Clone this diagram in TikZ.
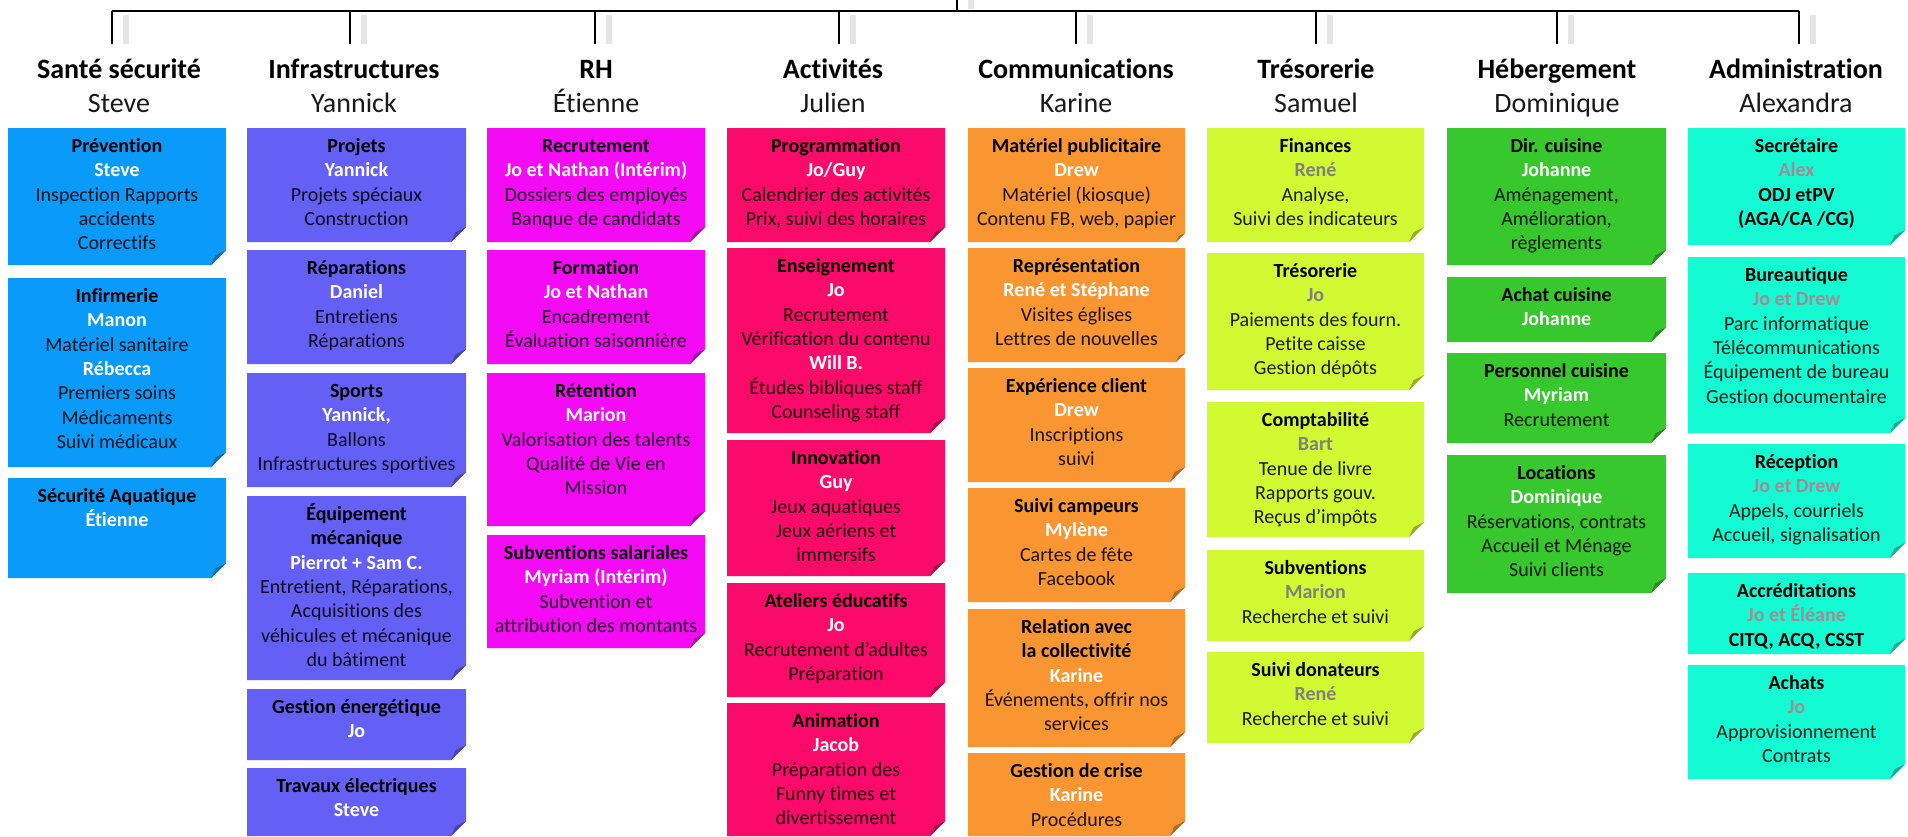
\documentclass[tikz,border=0pt]{standalone}
\usepackage{fontspec}
\setmainfont{Carlito}[Ligatures=NoCommon]
\definecolor{cSante}{RGB}{10,155,250}
\definecolor{cInfra}{RGB}{100,95,245}
\definecolor{cRH}{RGB}{245,10,245}
\definecolor{cAct}{RGB}{250,10,105}
\definecolor{cCom}{RGB}{250,150,50}
\definecolor{cTres}{RGB}{210,250,50}
\definecolor{cHeb}{RGB}{55,200,45}
\definecolor{cAdm}{RGB}{20,250,210}
\definecolor{nmGrey}{RGB}{128,128,128}
\definecolor{nmAdm}{RGB}{160,140,150}
\newcommand\btitle[1]{\textbf{\textcolor{black}{#1}}}
\newcommand\bname[1]{\textbf{\textcolor{\curname}{#1}}}
\newcommand\bblack[1]{\textbf{\textcolor{black}{#1}}}
\def\curname{white}
% name, colour, cut, x1, y1, x2, y2, content
\newcommand\SBox[8]{%
  \fill[#2] (#4,#5) -- (#6,#5) -- (#6,{#7-#3}) -- ({#6-#3},#7) -- (#4,#7) -- cycle;
  \fill[#2!70!black] (#6,{#7-#3}) -- ({#6-#3},#7) -- ({#6-0.7*#3},{#7-0.65*#3}) -- cycle;
  \node[boxtext, text=#2!12!black] (#1) at ({(#4+#6)/2},{#5+7.4}) {\strut #8};
}
\tikzset{
  boxtext/.style={font=\fontsize{20}{24.3}\selectfont, align=center, anchor=north, inner sep=0pt},
  hdtitle/.style={font=\fontsize{28}{33}\selectfont\bfseries, anchor=base, inner sep=0pt, text=black},
  hdname/.style={font=\fontsize{28}{33}\selectfont, anchor=base, inner sep=0pt, text=black!90},
  conn/.style={draw=black, line width=2.8pt},
  shadowline/.style={draw=gray!20, line width=6pt},
}
\begin{document}
\begin{tikzpicture}[x=1pt,y=-1pt]
\useasboundingbox (0,0) rectangle (1908,836);
\fill[white] (0,0) rectangle (1908,836);

% connectors
\coordinate (root) at (957,0);
\coordinate (rootj) at (957,11);
\foreach \i/\x in {1/112,2/350,3/595,4/839,5/1076,6/1316,7/1557,8/1799}{
  \coordinate (b\i) at (\x,11);
  \coordinate (d\i) at (\x,44);
}
\foreach \i in {1,...,8}{
  \draw[shadowline] ([xshift=14pt,yshift=-4pt]b\i) -- ([xshift=14pt]d\i);
}
\draw[shadowline] ([xshift=14pt]root) -- ([xshift=14pt,yshift=2pt]rootj);
\draw[conn] (b1) -- (b8);
\draw[conn] (root) -- (rootj);
\foreach \i in {1,...,8}{
  \draw[conn] (b\i) -- (d\i);
}

% headers
\node[hdtitle] (h1) at (119,78) {Santé sécurité};
\node[hdname] (n1) at (119,112) {Steve};
\node[hdtitle] (h2) at (354,78) {Infrastructures};
\node[hdname] (n2) at (354,112) {Yannick};
\node[hdtitle] (h3) at (596,78) {RH};
\node[hdname] (n3) at (596,112) {Étienne};
\node[hdtitle] (h4) at (833,78) {Activités};
\node[hdname] (n4) at (833,112) {Julien};
\node[hdtitle] (h5) at (1076,78) {Communications};
\node[hdname] (n5) at (1076,112) {Karine};
\node[hdtitle] (h6) at (1316,78) {Trésorerie};
\node[hdname] (n6) at (1316,112) {Samuel};
\node[hdtitle] (h7) at (1557,78) {Hébergement};
\node[hdname] (n7) at (1557,112) {Dominique};
\node[hdtitle] (h8) at (1796,78) {Administration};
\node[hdname] (n8) at (1796,112) {Alexandra};

% column 1
\SBox{a1}{cSante}{15}{8}{128}{226}{265}{\btitle{Prévention}\\ \bname{Steve}\\ Inspection Rapports\\ accidents\\ Correctifs}
\SBox{a2}{cSante}{15}{8}{278}{226}{467}{\btitle{Infirmerie}\\ \bname{Manon}\\ Matériel sanitaire\\ \bname{Rébecca}\\ Premiers soins\\ Médicaments\\ Suivi médicaux}
\SBox{a3}{cSante}{15}{8}{478}{226}{578}{\btitle{Sécurité Aquatique}\\ \bname{Étienne}}

% column 2
\SBox{b1}{cInfra}{15}{247}{128}{466}{242}{\btitle{Projets}\\ \bname{Yannick}\\ Projets spéciaux\\ Construction}
\SBox{b2}{cInfra}{15}{247}{250}{466}{364}{\btitle{Réparations}\\ \bname{Daniel}\\ Entretiens\\ Réparations}
\SBox{b3}{cInfra}{15}{247}{373}{466}{487}{\btitle{Sports}\\ \bname{Yannick,}\\ Ballons\\ Infrastructures sportives}
\SBox{b4}{cInfra}{15}{247}{496}{466}{680}{\btitle{Équipement}\\ \btitle{mécanique}\\ \bname{Pierrot + Sam C.}\\ Entretient, Réparations,\\ Acquisitions des\\ véhicules et mécanique\\ du bâtiment}
\SBox{b5}{cInfra}{15}{247}{689}{466}{760}{\btitle{Gestion énergétique}\\ \bname{Jo}}
\SBox{b6}{cInfra}{15}{247}{768}{466}{836}{\btitle{Travaux électriques}\\ \bname{Steve}}

% column 3
\SBox{c1}{cRH}{15}{487}{128}{705}{242}{\btitle{Recrutement}\\ \bname{Jo et Nathan (Intérim)}\\ Dossiers des employés\\ Banque de candidats}
\SBox{c2}{cRH}{15}{487}{250}{705}{364}{\btitle{Formation}\\ \bname{Jo et Nathan}\\ Encadrement\\ Évaluation saisonnière}
\SBox{c3}{cRH}{15}{487}{373}{705}{526}{\btitle{Rétention}\\ \bname{Marion}\\ Valorisation des talents\\ Qualité de Vie en\\ Mission}
\SBox{c4}{cRH}{15}{487}{535}{705}{648}{\btitle{Subventions salariales}\\ \bname{Myriam (Intérim)}\\ Subvention et\\ attribution des montants}

% column 4
\SBox{d1}{cAct}{15}{727}{128}{945}{242}{\btitle{Programmation}\\ \bname{Jo/Guy}\\ Calendrier des activités\\ Prix, suivi des horaires}
\SBox{d2}{cAct}{15}{727}{248}{945}{433}{\btitle{Enseignement}\\ \bname{Jo}\\ Recrutement\\ Vérification du contenu\\ \bname{Will B.}\\ Études bibliques staff\\ Counseling staff}
\SBox{d3}{cAct}{15}{727}{440}{945}{576}{\btitle{Innovation}\\ \bname{Guy}\\ Jeux aquatiques\\ Jeux aériens et\\ immersifs}
\SBox{d4}{cAct}{15}{727}{583}{945}{697}{\btitle{Ateliers éducatifs}\\ \bname{Jo}\\ Recrutement d’adultes\\ Préparation}
\SBox{d5}{cAct}{15}{727}{703}{945}{836}{\btitle{Animation}\\ \bname{Jacob}\\ Préparation des\\ Funny times et\\ divertissement}

% column 5
\SBox{e1}{cCom}{9}{968}{128}{1185}{242}{\btitle{Matériel publicitaire}\\ \bname{Drew}\\ Matériel (kiosque)\\ Contenu FB, web, papier}
\SBox{e2}{cCom}{9}{968}{248}{1185}{362}{\btitle{Représentation}\\ \bname{René et Stéphane}\\ Visites églises\\ Lettres de nouvelles}
\SBox{e3}{cCom}{15}{968}{368}{1185}{482}{\btitle{Expérience client}\\ \bname{Drew}\\ Inscriptions\\ suivi}
\SBox{e4}{cCom}{15}{968}{488}{1185}{602}{\btitle{Suivi campeurs}\\ \bname{Mylène}\\ Cartes de fête\\ Facebook}
\SBox{e5}{cCom}{15}{968}{609}{1185}{747}{\btitle{Relation avec}\\ \btitle{la collectivité}\\ \bname{Karine}\\ Événements, offrir nos\\ services}
\SBox{e6}{cCom}{15}{968}{753}{1185}{836}{\btitle{Gestion de crise}\\ \bname{Karine}\\ Procédures}

% column 6
\def\curname{nmGrey}
\SBox{f1}{cTres}{15}{1207}{128}{1424}{242}{\btitle{Finances}\\ \bname{René}\\ Analyse,\\ Suivi des indicateurs}
\SBox{f2}{cTres}{15}{1207}{253}{1424}{390}{\btitle{Trésorerie}\\ \bname{Jo}\\ Paiements des fourn.\\ Petite caisse\\ Gestion dépôts}
\SBox{f3}{cTres}{15}{1207}{402}{1424}{537}{\btitle{Comptabilité}\\ \bname{Bart}\\ Tenue de livre\\ Rapports gouv.\\ Reçus d’impôts}
\SBox{f4}{cTres}{15}{1207}{550}{1424}{641}{\btitle{Subventions}\\ \bname{Marion}\\ Recherche et suivi}
\SBox{f5}{cTres}{15}{1207}{652}{1424}{743}{\btitle{Suivi donateurs}\\ \bname{René}\\ Recherche et suivi}

% column 7
\def\curname{white}
\SBox{g1}{cHeb}{15}{1447}{128}{1666}{265}{\btitle{Dir. cuisine}\\ \bname{Johanne}\\ Aménagement,\\ Amélioration,\\ règlements}
\SBox{g2}{cHeb}{15}{1447}{277}{1666}{342}{\btitle{Achat cuisine}\\ \bname{Johanne}}
\SBox{g3}{cHeb}{15}{1447}{353}{1666}{443}{\btitle{Personnel cuisine}\\ \bname{Myriam}\\ Recrutement}
\SBox{g4}{cHeb}{15}{1447}{455}{1666}{593}{\btitle{Locations}\\ \bname{Dominique}\\ Réservations, contrats\\ Accueil et Ménage\\ Suivi clients}

% column 8
\def\curname{nmAdm}
\SBox{h1}{cAdm}{15}{1688}{128}{1905}{245}{\btitle{Secrétaire}\\ \bname{Alex}\\ \bblack{ODJ etPV}\\ \bblack{(AGA/CA /CG)}}
\SBox{h2}{cAdm}{15}{1688}{257}{1905}{433}{\btitle{Bureautique}\\ \bname{Jo et Drew}\\ Parc informatique\\ Télécommunications\\ Équipement de bureau\\ Gestion documentaire}
\SBox{h3}{cAdm}{15}{1688}{444}{1905}{558}{\btitle{Réception}\\ \bname{Jo et Drew}\\ Appels, courriels\\ Accueil, signalisation}
\SBox{h4}{cAdm}{15}{1688}{573}{1905}{654}{\btitle{Accréditations}\\ \bname{Jo et Éléane}\\ \bblack{CITQ, ACQ, CSST}}
\SBox{h5}{cAdm}{15}{1688}{665}{1905}{779}{\btitle{Achats}\\ \bname{Jo}\\ Approvisionnement\\ Contrats}
\end{tikzpicture}
\end{document}
